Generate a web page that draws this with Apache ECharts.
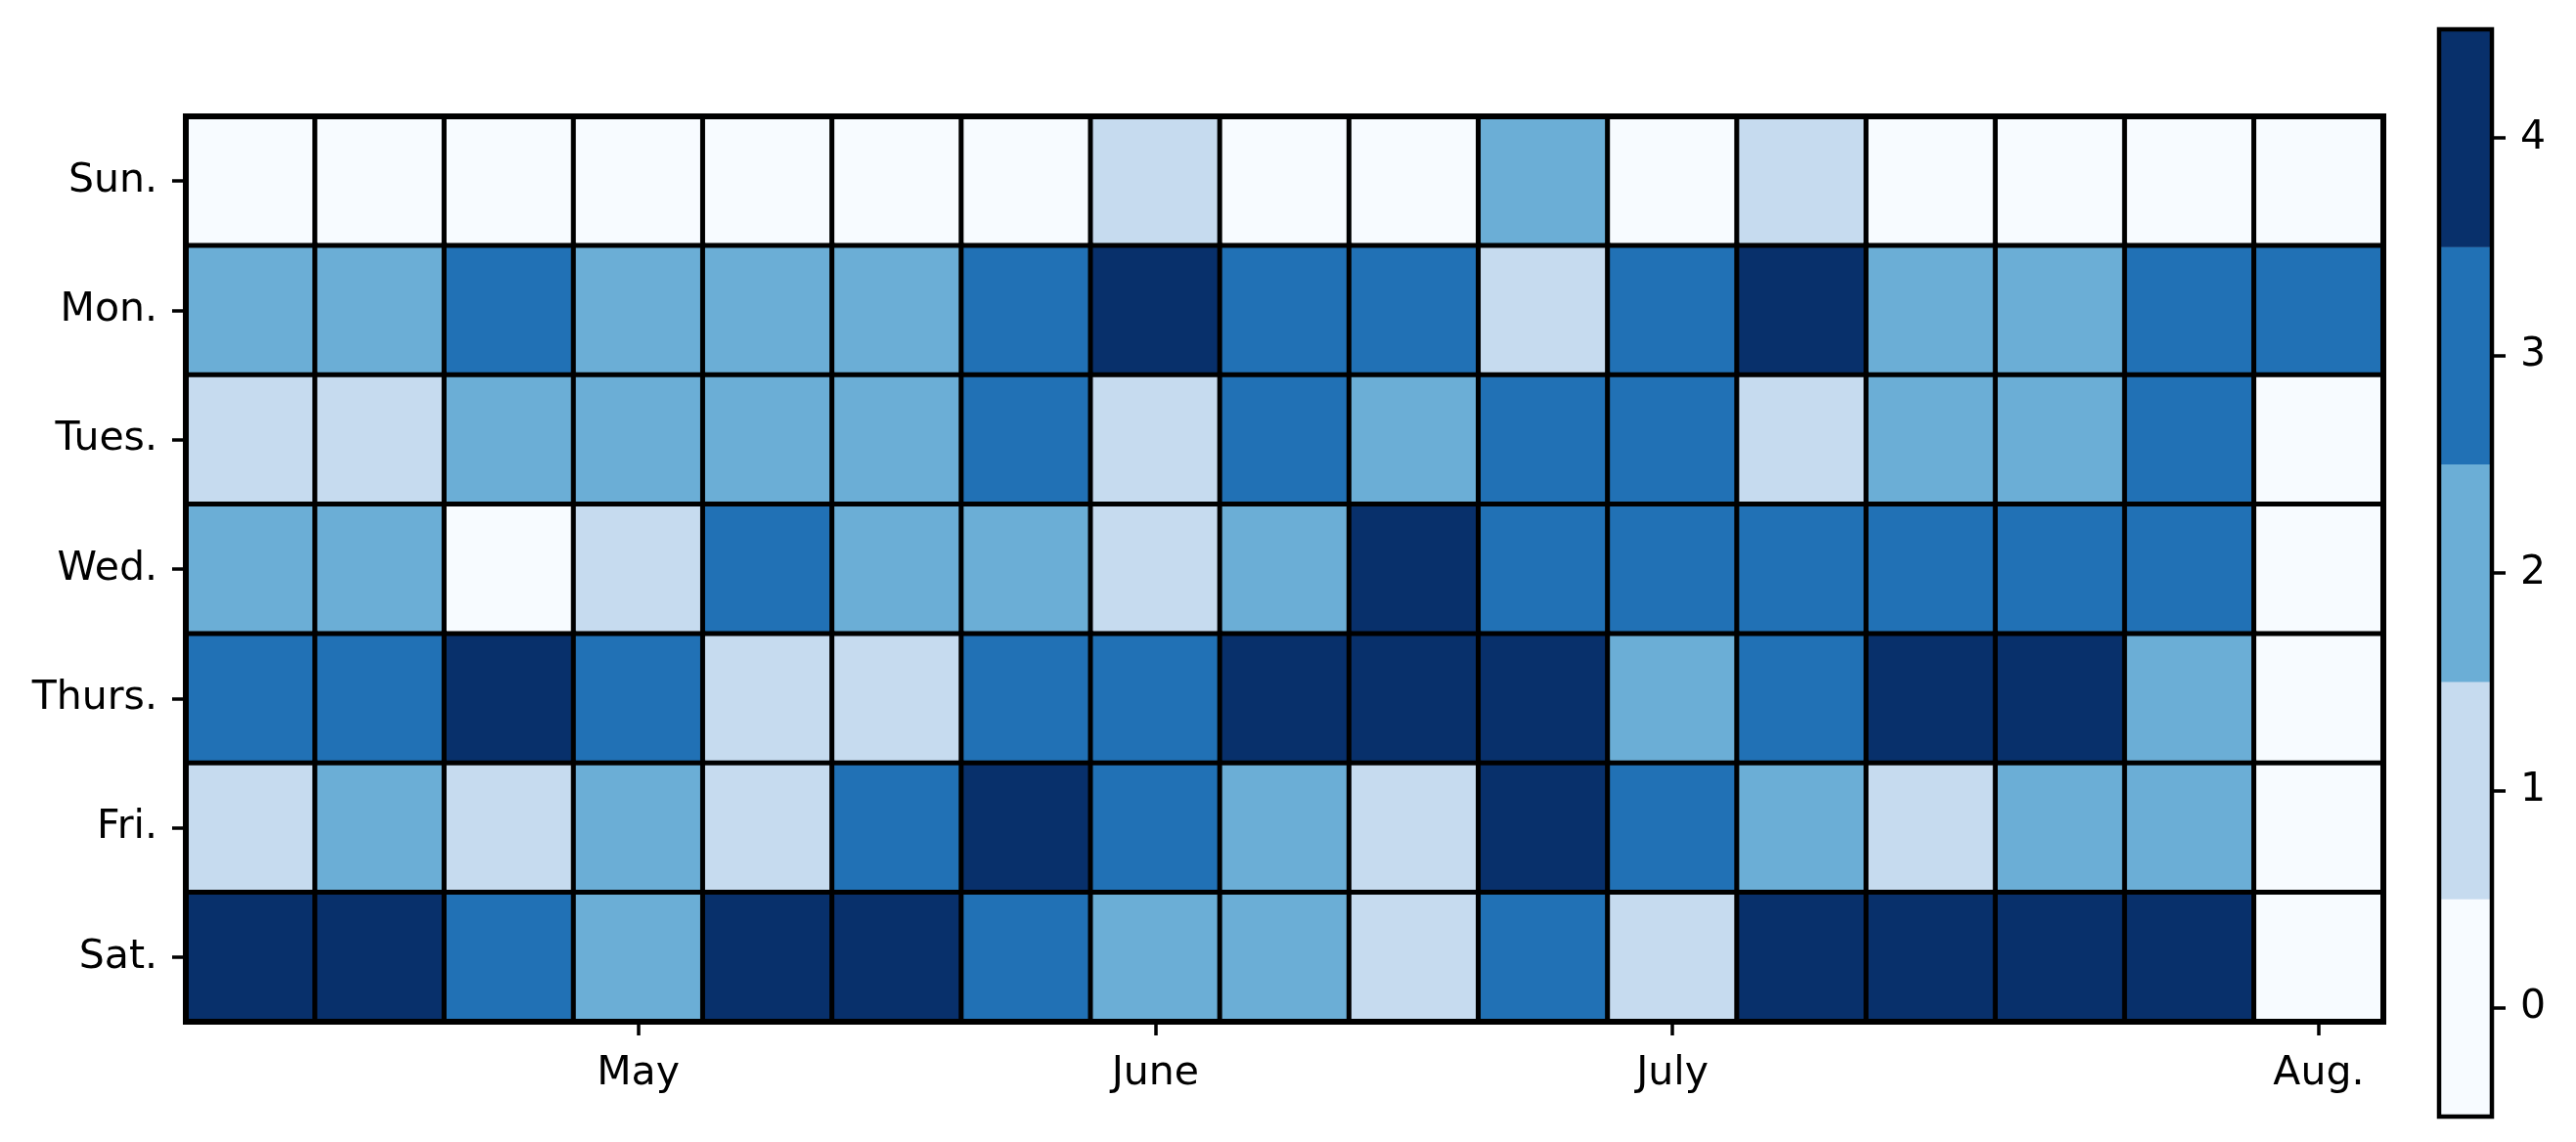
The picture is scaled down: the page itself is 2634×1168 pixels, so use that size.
<!DOCTYPE html>
<html lang="en">
	<head>
		<meta charset="UTF-8" />
		<title>Weekly heatmap</title>
		<style>
			body {
				margin: 0;
				padding: 0;
				background: #fff;
			}
			.chart {
				width: 2634px;
				height: 1168px;
			}
		</style>
	</head>
	<body>
		<div class="chart"></div>
		<script src="https://cdn.jsdelivr.net/npm/echarts@6/dist/echarts.min.js"></script>
		<script>
			// rows = weekdays, columns = weeks
			const days = ['Sun.', 'Mon.', 'Tues.', 'Wed.', 'Thurs.', 'Fri.', 'Sat.'];
			const weeks = ['w1', 'w2', 'w3', 'w4', 'w5', 'w6', 'w7', 'w8', 'w9', 'w10', 'w11', 'w12', 'w13', 'w14', 'w15', 'w16', 'w17'];
			// month labels on the x axis, keyed by week index
			const monthTicks = { 3: 'May', 7: 'June', 11: 'July', 16: 'Aug.' };

			const sun = [0, 0, 0, 0, 0, 0, 0, 1, 0, 0, 2, 0, 1, 0, 0, 0, 0];
			const mon = [2, 2, 3, 2, 2, 2, 3, 4, 3, 3, 1, 3, 4, 2, 2, 3, 3];
			const tues = [1, 1, 2, 2, 2, 2, 3, 1, 3, 2, 3, 3, 1, 2, 2, 3, 0];
			const wed = [2, 2, 0, 1, 3, 2, 2, 1, 2, 4, 3, 3, 3, 3, 3, 3, 0];
			const thurs = [3, 3, 4, 3, 1, 1, 3, 3, 4, 4, 4, 2, 3, 4, 4, 2, 0];
			const fri = [1, 2, 1, 2, 1, 3, 4, 3, 2, 1, 4, 3, 2, 1, 2, 2, 0];
			const sat = [4, 4, 3, 2, 4, 4, 3, 2, 2, 1, 3, 1, 4, 4, 4, 4, 0];

			// colour bar levels
			const levels = [0, 1, 2, 3, 4];
			const levelLabels = ['0', '1', '2', '3', '4'];
			const blues = ['#f7fbff', '#c6dbef', '#6baed6', '#2171b5', '#08306b'];

			const rows = [sun, mon, tues, wed, thurs, fri, sat];
			const cells = [];
			rows.forEach((row, d) => {
				row.forEach((v, w) => cells.push([w, d, v]));
			});
			const barCells = levels.map((v, i) => [0, i, v]);

			const font = 'DejaVu Sans';
			const txt = { color: '#000', fontSize: 41, fontFamily: font };
			const tick = { show: true, length: 14, lineStyle: { color: '#000', width: 3.5 } };

			const instance = echarts.init(document.querySelector('.chart'));
			const option = {
				animation: false,
				backgroundColor: '#fff',
				grid: [
					{ left: 190, top: 119, width: 2247, height: 926, show: true, borderColor: '#000', borderWidth: 6, backgroundColor: 'transparent', z: 3 },
					{ left: 2494, top: 30, width: 54, height: 1112, show: true, borderColor: '#000', borderWidth: 4.5, backgroundColor: 'transparent', z: 3 }
				],
				xAxis: [
					{
						type: 'category',
						gridIndex: 0,
						data: weeks,
						axisLine: { show: false },
						axisTick: Object.assign({}, tick, { alignWithLabel: true, interval: i => monthTicks[i] !== undefined }),
						axisLabel: Object.assign({}, txt, {
							margin: 33,
							interval: i => monthTicks[i] !== undefined,
							formatter: (v, i) => monthTicks[i] || ''
						}),
						splitLine: { show: false }
					},
					{
						type: 'category',
						gridIndex: 1,
						data: ['c'],
						show: false
					}
				],
				yAxis: [
					{
						type: 'category',
						gridIndex: 0,
						data: days,
						inverse: true,
						axisLine: { show: false },
						axisTick: Object.assign({}, tick, { alignWithLabel: true }),
						axisLabel: Object.assign({}, txt, { margin: 29, padding: [4, 0, 0, 0] }),
						splitLine: { show: false }
					},
					{
						type: 'category',
						gridIndex: 1,
						data: levelLabels,
						position: 'right',
						axisLine: { show: false },
						axisTick: Object.assign({}, tick, { alignWithLabel: true }),
						axisLabel: Object.assign({}, txt, { margin: 29 }),
						splitLine: { show: false }
					}
				],
				visualMap: {
					type: 'piecewise',
					show: false,
					seriesIndex: [0, 1],
					pieces: levels.map((v, i) => ({ value: v, color: blues[i] }))
				},
				series: [
					{
						type: 'heatmap',
						xAxisIndex: 0,
						yAxisIndex: 0,
						data: cells,
						itemStyle: { borderColor: '#000', borderWidth: 5 },
						emphasis: { disabled: true }
					},
					{
						type: 'heatmap',
						xAxisIndex: 1,
						yAxisIndex: 1,
						data: barCells,
						itemStyle: { borderWidth: 0 },
						emphasis: { disabled: true }
					}
				]
			};
			instance.setOption(option);
		</script>
	</body>
</html>
